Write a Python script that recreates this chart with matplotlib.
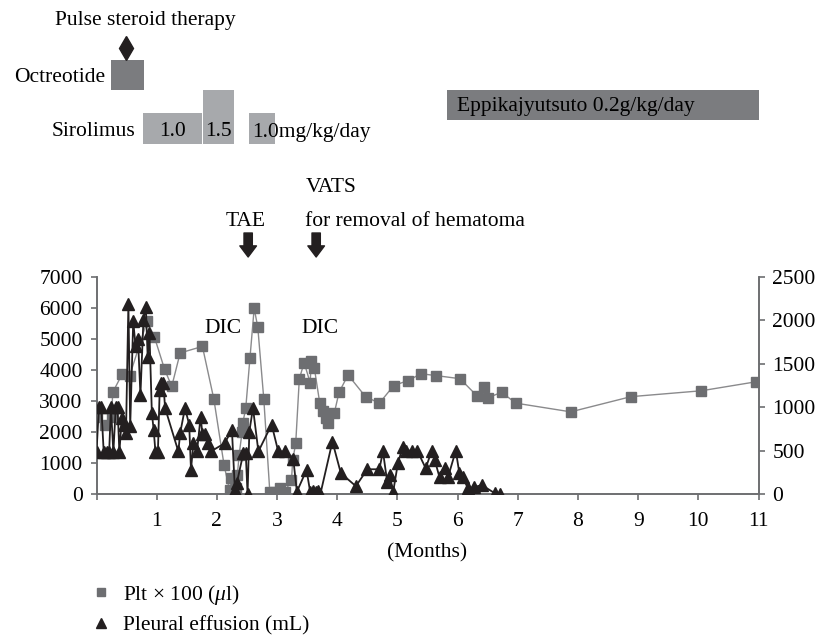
import matplotlib.pyplot as plt
from matplotlib.lines import Line2D
from matplotlib.patches import Rectangle

plt.rcParams['font.family'] = ['Liberation Serif', 'DejaVu Serif']
plt.rcParams['mathtext.fontset'] = 'custom'
plt.rcParams['mathtext.rm'] = 'Liberation Serif'
plt.rcParams['mathtext.it'] = 'Liberation Serif:italic'

# platelet count (x100 /ul) by month
plt_month = [0.01, 0.14, 0.25, 0.27, 0.43, 0.55, 0.84, 0.96, 1.13, 1.25, 1.39, 1.76,
             1.95, 2.12, 2.21, 2.24, 2.31, 2.34, 2.37, 2.42, 2.43, 2.48, 2.55, 2.62,
             2.68, 2.78, 2.88, 2.97, 3.05, 3.13, 3.24, 3.26, 3.31, 3.37, 3.45, 3.55,
             3.57, 3.62, 3.71, 3.76, 3.82, 3.85, 3.95, 4.03, 4.18, 4.47, 4.70, 4.94,
             5.18, 5.39, 5.64, 6.04, 6.32, 6.44, 6.51, 6.73, 6.97, 7.88, 8.88, 10.05, 10.96]
plt_count = [2470, 2210, 2500, 3280, 3880, 3810, 5570, 5080, 4030, 3470, 4550, 4760,
             3060, 930, 130, 510, 200, 600, 1270, 2010, 2280, 2770, 4390, 5990,
             5380, 3060, 65, 55, 200, 75, 450, 1090, 1630, 3710, 4240, 3590,
             4300, 4060, 2930, 2690, 2450, 2280, 2600, 3280, 3840, 3140, 2930, 3500,
             3660, 3880, 3820, 3720, 3170, 3450, 3110, 3280, 2930, 2650, 3140, 3330, 3620]

# pleural effusion (mL) by month
eff_month = [0.00, 0.04, 0.08, 0.12, 0.17, 0.21, 0.24, 0.28, 0.32, 0.35, 0.38, 0.42,
             0.45, 0.49, 0.53, 0.56, 0.61, 0.65, 0.69, 0.73, 0.78, 0.82, 0.85, 0.88,
             0.92, 0.95, 0.98, 1.02, 1.05, 1.08, 1.11, 1.14, 1.36, 1.39, 1.47, 1.54,
             1.57, 1.61, 1.67, 1.73, 1.76, 1.80, 1.86, 1.90, 2.13, 2.25, 2.30, 2.33,
             2.44, 2.48, 2.51, 2.54, 2.60, 2.69, 2.91, 3.02, 3.13, 3.27, 3.33, 3.49,
             3.55, 3.60, 3.64, 3.68, 3.72, 3.92, 4.06, 4.31, 4.50, 4.70, 4.76, 4.83,
             4.87, 4.93, 5.01, 5.09, 5.15, 5.24, 5.33, 5.47, 5.57, 5.62, 5.70, 5.79,
             5.84, 5.97, 6.03, 6.09, 6.17, 6.27, 6.40, 6.62, 6.71]
eff_ml = [480, 1000, 1000, 480, 480, 480, 1000, 480, 1000, 1000, 480, 870,
          800, 700, 2190, 780, 1990, 1700, 1780, 1140, 2010, 2160, 1580, 1850,
          930, 740, 480, 480, 1200, 1280, 1280, 990, 490, 700, 990, 800,
          280, 585, 490, 890, 690, 690, 585, 490, 585, 740, 46, 123,
          470, 470, 0, 720, 990, 490, 800, 490, 490, 400, 27, 277,
          27, 30, 20, 30, 0, 604, 240, 90, 285, 285, 490, 142,
          219, 27, 362, 546, 500, 500, 500, 296, 500, 392, 192, 296,
          192, 500, 238, 192, 65, 77, 104, 8, 0]

# treatments (months)
steroid_pulse = 0.49
octreotide = (0.24, 0.79)
sirolimus_start = [0.77, 1.77, 2.53]
sirolimus_end = [1.75, 2.29, 2.97]
sirolimus_dose = ['1.0', '1.5', '1.0']
eppikajyutsuto = (5.82, 11.0)
tae_month = 2.52
vats_month = 3.65

DARK = '#7b7c7f'
LIGHT = '#a7a9ac'
FS = 15.5

W, H = 815, 637
x0, x1 = 96.5, 758.5
fig = plt.figure(figsize=(W / 100, H / 100), dpi=100)

# main chart
ax = fig.add_axes([x0 / W, (H - 494) / H, (x1 - x0) / W, (494 - 277) / H])
ax2 = ax.twinx()

ax.plot(plt_month, plt_count, color='#8a8a8c', lw=1, marker='s', ms=7,
        mfc='#6d6e71', mec='#6d6e71', zorder=3)
ax2.plot(eff_month, eff_ml, color='#231f20', lw=1.3, marker='^', ms=8,
         mfc='#231f20', mec='#231f20', zorder=3)

ax.set_xlim(0, 11)
ax.set_ylim(0, 7000)
ax2.set_ylim(0, 2500)
ax.set_xticks(range(12))
ax.set_xticklabels([''] + [str(i) for i in range(1, 12)])
ax.set_yticks(range(0, 7001, 1000))
ax2.set_yticks(range(0, 2501, 500))
for a in (ax, ax2):
    a.spines['top'].set_visible(False)
    for s in a.spines.values():
        s.set_color('#6d6e71')
        s.set_linewidth(1.2)
    a.tick_params(direction='out', length=4, width=1.2, color='#6d6e71',
                  labelsize=FS, pad=6)
ax.tick_params(axis='x', pad=9)
ax.set_xlabel('(Months)', fontsize=FS, labelpad=9)

ax.text(2.1, 5350, 'DIC', fontsize=FS, ha='center', va='center')
ax.text(3.71, 5350, 'DIC', fontsize=FS, ha='center', va='center')

# treatment timeline above the chart (y in pixels from top)
top = fig.add_axes([x0 / W, (H - 270) / H, (x1 - x0) / W, 270 / H])
top.set_xlim(0, 11)
top.set_ylim(270, 0)
top.axis('off')

top.text(-0.69, 21, 'Pulse steroid therapy', fontsize=FS, ha='left', va='center')
top.plot([steroid_pulse], [48], marker='d', ms=12, color='#231f20')

top.add_patch(Rectangle((octreotide[0], 60), octreotide[1] - octreotide[0], 30,
                        color=DARK, lw=0))
top.text(octreotide[0] - 0.1, 78, 'Octreotide', fontsize=FS, ha='right', va='center')

sir_height = {'1.0': 31, '1.5': 54}
for s, e, d in zip(sirolimus_start, sirolimus_end, sirolimus_dose):
    h = sir_height[d]
    top.add_patch(Rectangle((s, 144 - h), e - s, h, color=LIGHT, lw=0))
top.text(sirolimus_start[0] - 0.12, 132, 'Sirolimus', fontsize=FS, ha='right', va='center')
for s, e, d in zip(sirolimus_start[:2], sirolimus_end[:2], sirolimus_dose[:2]):
    top.text((s + e) / 2, 132, d, fontsize=FS, ha='center', va='center')
top.text(sirolimus_start[2] + 0.06, 132, sirolimus_dose[2] + 'mg/kg/day',
         fontsize=FS, ha='left', va='center')

top.add_patch(Rectangle((eppikajyutsuto[0], 90), eppikajyutsuto[1] - eppikajyutsuto[0], 30,
                        color=DARK, lw=0))
top.text(eppikajyutsuto[0] + 0.17, 106, 'Eppikajyutsuto 0.2g/kg/day', fontsize=FS,
         ha='left', va='center')

arrow = dict(arrowstyle='simple,head_width=1.2,head_length=0.8,tail_width=0.6',
             fc='#231f20', ec='#231f20', shrinkA=0, shrinkB=0, mutation_scale=10)
top.annotate('', xy=(tae_month, 257), xytext=(tae_month, 233), arrowprops=arrow)
top.annotate('', xy=(vats_month, 257), xytext=(vats_month, 233), arrowprops=arrow)
top.text(tae_month - 0.05, 222, 'TAE', fontsize=FS, ha='center', va='center')
top.text(vats_month - 0.18, 188, 'VATS', fontsize=FS, ha='left', va='center')
top.text(vats_month - 0.18, 221, 'for removal of hematoma', fontsize=FS,
         ha='left', va='center')

handles = [Line2D([], [], ls='none', marker='s', ms=6, color='#6d6e71'),
           Line2D([], [], ls='none', marker='^', ms=7, color='#231f20')]
fig.legend(handles, [r'Plt $\times$ 100 ($\mu$l)', 'Pleural effusion (mL)'],
           loc='upper left', bbox_to_anchor=(90 / W, 1 - 583 / H), frameon=False,
           fontsize=FS, handlelength=1.0, handletextpad=0.55, borderpad=0,
           borderaxespad=0, labelspacing=0.38)

fig.savefig('out.png', dpi=100)
